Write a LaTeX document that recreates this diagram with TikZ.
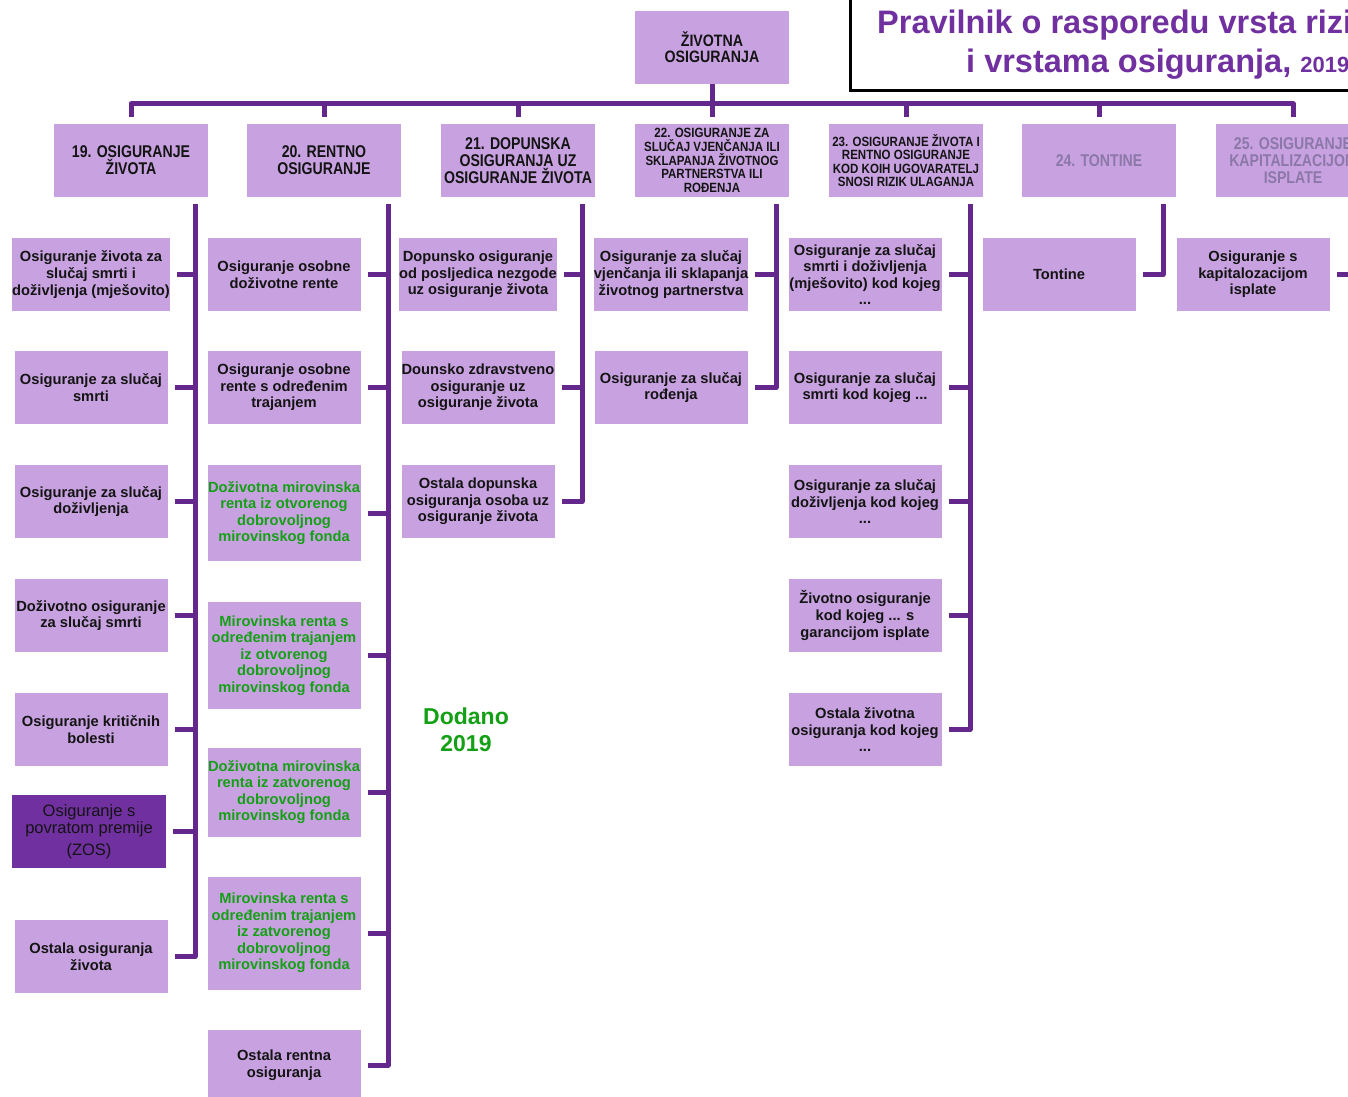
\documentclass[tikz,border=0pt]{standalone}
\usepackage{fontspec}
\usetikzlibrary{calc}
\setmainfont{Liberation Sans}
\newfontfamily\headfont{Liberation Sans}[FakeStretch=0.83]
\newfontfamily\smallhead{Liberation Sans}[FakeStretch=0.86]
\definecolor{boxc}{RGB}{200,162,224}
\definecolor{darkbox}{RGB}{112,48,160}
\definecolor{linec}{RGB}{100,40,140}
\definecolor{txtc}{RGB}{20,20,20}
\definecolor{greentxt}{RGB}{20,160,20}
\definecolor{greyhead}{RGB}{140,120,168}
\definecolor{titlec}{RGB}{112,48,160}
\newcommand{\bx}{\fontsize{14.7}{16.6}\selectfont\bfseries}
\newcommand{\hd}{\fontsize{17}{17}\selectfont\headfont\bfseries}
\newcommand{\hdsmall}{\fontsize{13.4}{13.6}\selectfont\smallhead\bfseries}
\tikzset{
  conn/.style={draw=linec, line width=5pt, line join=round},
  box/.style={fill=boxc, minimum width=153pt, minimum height=73pt, inner sep=0pt,
              align=center, font=\bx, text=txtc},
  greenbox/.style={box, text=greentxt},
  headbox/.style={box, font=\hd, minimum width=154pt},
  titletext/.style={anchor=base west, inner sep=0pt, text=titlec,
              font=\fontsize{32.5}{35}\selectfont\bfseries},
}
\begin{document}
\begin{tikzpicture}[x=1pt, y=-1pt]
\fill[white] (0,0) rectangle (1348,1096);
\useasboundingbox (0,0) rectangle (1348,1096);
\clip (0,0) rectangle (1348,1096);

% title frame
\draw[black, line width=3pt] (850,-20) rectangle (1420,90);
\node[titletext] (title1) at (877,33) {Pravilnik o rasporedu vrsta rizika};
\node[titletext] (title2) at (966,72) {i vrstama osiguranja, {\fontsize{22}{24}\selectfont 2019}};

% root
\node[box, font=\fontsize{16.5}{16}\selectfont\smallhead\bfseries, minimum width=154pt]
  (root) at (712,47.5) {ŽIVOTNA\\OSIGURANJA};

% headers
\node[headbox] (h19) at (131,160.5) {19. OSIGURANJE\\ŽIVOTA};
\node[headbox] (h20) at (324,160.5) {20. RENTNO\\OSIGURANJE};
\node[headbox] (h21) at (518,160.5) {21. DOPUNSKA\\OSIGURANJA UZ\\OSIGURANJE ŽIVOTA};
\node[headbox, font=\hdsmall] (h22) at (712,160.5) {22. OSIGURANJE ZA\\SLUČAJ VJENČANJA ILI\\SKLAPANJA ŽIVOTNOG\\PARTNERSTVA ILI\\ROĐENJA};
\node[headbox, font=\hdsmall] (h23) at (906,160.5) {23. OSIGURANJE ŽIVOTA I\\RENTNO OSIGURANJE\\KOD KOIH UGOVARATELJ\\SNOSI RIZIK ULAGANJA};
\node[headbox, text=greyhead] (h24) at (1099,160.5) {24. TONTINE};
\node[headbox, text=greyhead] (h25) at (1293,160.5) {25. OSIGURANJE\\KAPITALIZACIJOM\\ISPLATE};

% bus from root to headers
\draw[conn] (root.south) -- ++(0,20);
\draw[conn] ($(h19.north)+(0,-7)$) -- ++(0,-13) -| ($(h25.north)+(0,-7)$);
\foreach \h in {h20,h21,h22,h23,h24}
  \draw[conn] ($(\h.north)+(0,-7)$) -- ++(0,-13);

% column 19
\node[box] (c1a) at (91,274.5) {Osiguranje života za\\slučaj smrti i\\doživljenja (mješovito)};
\node[box] (c1b) at (91,387.5) {Osiguranje za slučaj\\smrti};
\node[box] (c1c) at (91,501.5) {Osiguranje za slučaj\\doživljenja};
\node[box] (c1d) at (91,615.5) {Doživotno osiguranje\\za slučaj smrti};
\node[box] (c1e) at (91,729.5) {Osiguranje kritičnih\\bolesti};
\node[box, fill=darkbox, minimum width=154pt, font=\fontsize{16.5}{17}\selectfont]
  (c1f) at (89,831.5) {Osiguranje s\\povratom premije\\[5pt](ZOS)};
\node[box] (c1g) at (91,956.5) {Ostala osiguranja\\života};

% column 20
\node[box] (c2a) at (284,274.5) {Osiguranje osobne\\doživotne rente};
\node[box] (c2b) at (284,387.5) {Osiguranje osobne\\rente s određenim\\trajanjem};
\node[greenbox, minimum height=96pt] (c2c) at (284,513) {Doživotna mirovinska\\renta iz otvorenog\\dobrovoljnog\\mirovinskog fonda};
\node[greenbox, minimum height=107pt] (c2d) at (284,655.5) {Mirovinska renta s\\određenim trajanjem\\iz otvorenog\\dobrovoljnog\\mirovinskog fonda};
\node[greenbox, minimum height=89pt] (c2e) at (284,792) {Doživotna mirovinska\\renta iz zatvorenog\\dobrovoljnog\\mirovinskog fonda};
\node[greenbox, minimum height=113pt] (c2f) at (284,933) {Mirovinska renta s\\određenim trajanjem\\iz zatvorenog\\dobrovoljnog\\mirovinskog fonda};
\node[box, minimum height=70pt] (c2g) at (284,1065) {Ostala rentna\\osiguranja};

% column 21
\node[box] (c3a) at (478,274.5) {Dopunsko osiguranje\\od posljedica nezgode\\uz osiguranje života};
\node[box] (c3b) at (478,387.5) {Dounsko zdravstveno\\osiguranje uz\\osiguranje života};
\node[box] (c3c) at (478,501.5) {Ostala dopunska\\osiguranja osoba uz\\osiguranje života};

% column 22
\node[box] (c4a) at (671,274.5) {Osiguranje za slučaj\\vjenčanja ili sklapanja\\životnog partnerstva};
\node[box] (c4b) at (671,387.5) {Osiguranje za slučaj\\rođenja};

% column 23
\node[box] (c5a) at (865,274.5) {Osiguranje za slučaj\\smrti i doživljenja\\(mješovito) kod kojeg\\...};
\node[box] (c5b) at (865,387.5) {Osiguranje za slučaj\\smrti kod kojeg ...};
\node[box] (c5c) at (865,501.5) {Osiguranje za slučaj\\doživljenja kod kojeg\\...};
\node[box] (c5d) at (865,615.5) {Životno osiguranje\\kod kojeg ... s\\garancijom isplate};
\node[box] (c5e) at (865,729.5) {Ostala životna\\osiguranja kod kojeg\\...};

% columns 24 and 25
\node[box] (c6a) at (1059,274.5) {Tontine};
\node[box] (c7a) at (1253,274.5) {Osiguranje s\\kapitalozacijom\\isplate};

% trunks under the headers
\foreach \h/\t in {h19/t1,h20/t2,h21/t3,h22/t4,h23/t5,h24/t6,h25/t7}
  \coordinate (\t) at ($(\h.south)+(64,7)$);

\draw[conn] (t1) |- ($(c1g.east)+(7,0)$);
\foreach \n in {a,b,c,d,e,f}
  \draw[conn] ($(c1\n.east)+(7,0)$) -- (c1\n.east -| t1);
\draw[conn] (t2) |- ($(c2g.east)+(7,0)$);
\foreach \n in {a,b,c,d,e,f}
  \draw[conn] ($(c2\n.east)+(7,0)$) -- (c2\n.east -| t2);
\draw[conn] (t3) |- ($(c3c.east)+(7,0)$);
\foreach \n in {a,b}
  \draw[conn] ($(c3\n.east)+(7,0)$) -- (c3\n.east -| t3);
\draw[conn] (t4) |- ($(c4b.east)+(7,0)$);
\draw[conn] ($(c4a.east)+(7,0)$) -- (c4a.east -| t4);
\draw[conn] (t5) |- ($(c5e.east)+(7,0)$);
\foreach \n in {a,b,c,d}
  \draw[conn] ($(c5\n.east)+(7,0)$) -- (c5\n.east -| t5);
\draw[conn] (t6) |- ($(c6a.east)+(7,0)$);
\draw[conn] (t7) |- ($(c7a.east)+(7,0)$);

% note
\node[text=greentxt, align=center, font=\fontsize{23}{27}\selectfont\bfseries]
  (note) at (466,730) {Dodano\\2019};
\end{tikzpicture}
\end{document}
